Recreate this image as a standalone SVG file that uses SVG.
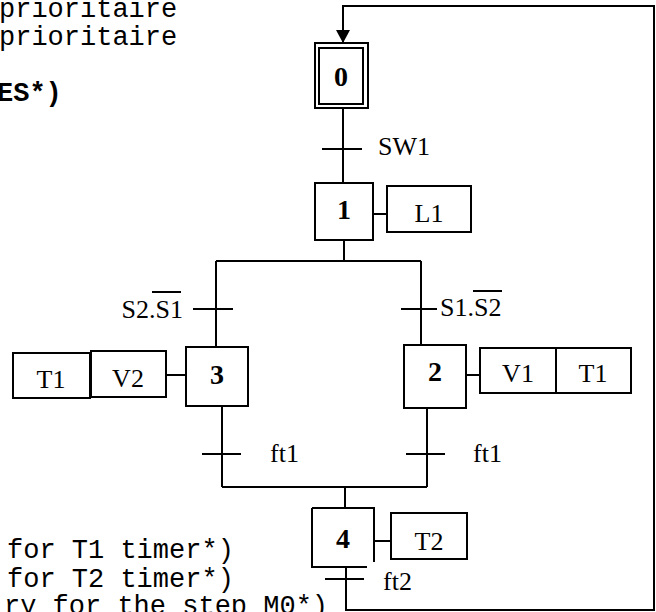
<svg xmlns="http://www.w3.org/2000/svg" width="656" height="612" viewBox="0 0 656 612">
<style>
.ln{stroke:#000;stroke-width:2;fill:none}
.box{stroke:#000;stroke-width:2;fill:#fff}
.lbl{font-family:"Liberation Serif",serif;font-size:26px;fill:#000}
.num{font-family:"Liberation Serif",serif;font-size:28px;font-weight:bold;fill:#000;text-anchor:middle}
.ctr{text-anchor:middle}
.code{font-family:"Liberation Mono",monospace;font-size:27px;fill:#000}
</style>
<defs>
<marker id="arr" markerWidth="14" markerHeight="14" refX="13" refY="7" orient="auto" markerUnits="userSpaceOnUse" viewBox="0 0 14 14">
<path d="M0,0 L13,7 L0,14 Z" fill="#000"/>
</marker>
</defs>
<rect width="656" height="612" fill="#fff"/>
<g id="code-text">
<text class="code" x="-1" y="17">prioritaire</text>
<text class="code" x="-1" y="45">prioritaire</text>
<text class="code" x="-3" y="101" font-weight="bold">ES*)</text>
<text class="code" x="7" y="558">for T1 timer*)</text>
<text class="code" x="7" y="587">for T2 timer*)</text>
<text class="code" x="4" y="614">ry for the step M0*)</text>
</g>
<g id="connectors">
<path class="ln" d="M343,108 V183"/>
<path class="ln" d="M322,149 H362"/>
<path class="ln" d="M344,240 V261 M216,261 H421 M216,261 V347 M421,261 V345"/>
<path class="ln" d="M193,309 H233 M401,309 H437"/>
<path class="ln" d="M222,406 V487 M427,405 V487 M222,487 H427 M345,487 V508"/>
<path class="ln" d="M202,454 H241 M406,454 H445"/>
<path class="ln" d="M325,579 H364"/>
<path class="ln" d="M346,567 V610 H654 V6 H343 V43" marker-end="url(#arr)"/>
<path class="ln" d="M373,214 H387 M166,375 H186 M466,375 H480 M374,541 H391"/>
</g>
<g id="step0">
<rect class="box" x="315" y="43" width="53" height="65"/>
<rect class="box" x="319" y="48" width="44" height="56"/>
<text class="num" x="341" y="86">0</text>
</g>
<g id="t-sw1"><text class="lbl" x="378" y="155">SW1</text></g>
<g id="step1">
<rect class="box" x="315" y="183" width="58" height="57"/>
<text class="num" x="344" y="219">1</text>
</g>
<g id="action-L1">
<rect class="box" x="387" y="186" width="84" height="46"/>
<text class="lbl ctr" x="429" y="222">L1</text>
</g>
<g id="t-left">
<text class="lbl" x="183" y="318" text-anchor="end">S2.S1</text>
<line class="ln" x1="152" y1="292" x2="181" y2="292" stroke-width="1.5"/>
</g>
<g id="t-right">
<text class="lbl" x="440" y="316">S1.S2</text>
<line class="ln" x1="473" y1="291" x2="502" y2="291" stroke-width="1.5"/>
</g>
<g id="step3">
<rect class="box" x="186" y="347" width="62" height="59"/>
<text class="num" x="217" y="384">3</text>
</g>
<g id="action-V2">
<rect class="box" x="91" y="351" width="75" height="46"/>
<text class="lbl ctr" x="128" y="387">V2</text>
</g>
<g id="action-T1-left">
<rect class="box" x="13" y="353" width="77" height="45"/>
<text class="lbl ctr" x="51" y="388">T1</text>
</g>
<g id="step2">
<rect class="box" x="404" y="345" width="62" height="63"/>
<text class="num" x="435" y="381">2</text>
</g>
<g id="action-V1">
<rect class="box" x="480" y="348" width="76" height="45"/>
<text class="lbl ctr" x="518" y="382">V1</text>
</g>
<g id="action-T1-right">
<rect class="box" x="556" y="348" width="75" height="45"/>
<text class="lbl ctr" x="593" y="382">T1</text>
</g>
<g id="t-ft1-left"><text class="lbl" x="270" y="462">ft1</text></g>
<g id="t-ft1-right"><text class="lbl" x="473" y="462">ft1</text></g>
<g id="step4">
<rect x="312" y="508" width="62" height="59" fill="#fff"/>
<path class="ln" d="M312,508 H374 V562 M312,508 V567 H367"/>
<text class="num" x="343" y="548">4</text>
</g>
<g id="action-T2">
<rect class="box" x="391" y="513" width="76" height="46"/>
<text class="lbl ctr" x="429" y="550">T2</text>
</g>
<g id="t-ft2"><text class="lbl" x="383" y="590">ft2</text></g>
</svg>
